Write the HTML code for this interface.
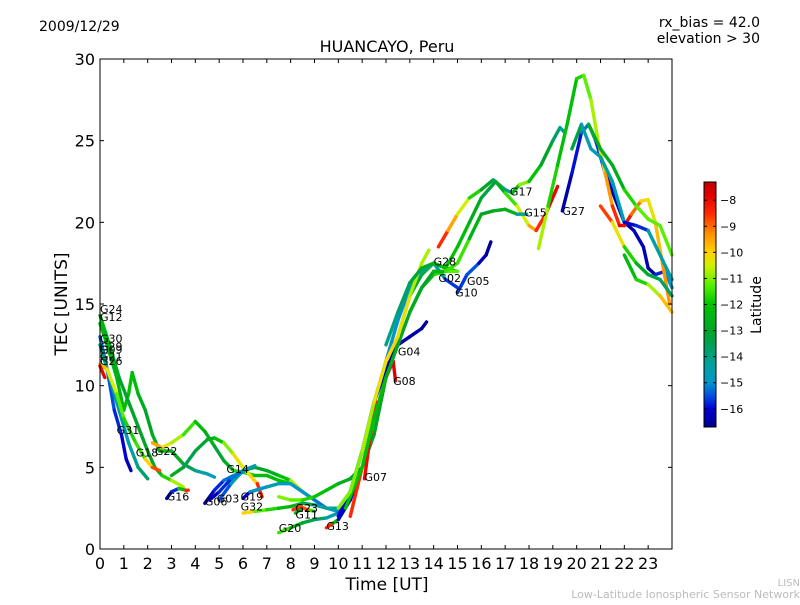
<!DOCTYPE html>
<html><head><meta charset="utf-8"><style>
body{margin:0;background:#fff;font-family:"Liberation Sans","DejaVu Sans",sans-serif}
svg text{font-family:"DejaVu Sans","Liberation Sans",sans-serif}
</style></head><body>
<svg id="chart" width="800" height="600" viewBox="0 0 800 600" xmlns="http://www.w3.org/2000/svg">
<rect width="800" height="600" fill="#fff"/>
<text x="39" y="31" font-size="14">2009/12/29</text>
<text x="760" y="27" font-size="14" text-anchor="end">rx_bias = 42.0</text>
<text x="760" y="43" font-size="14" text-anchor="end">elevation &gt; 30</text>
<text x="387" y="52" font-size="16" text-anchor="middle">HUANCAYO, Peru</text>
<text x="387" y="590" font-size="17" text-anchor="middle">Time [UT]</text>
<text x="0" y="0" font-size="17" text-anchor="middle" transform="translate(67,304) rotate(-90)">TEC [UNITS]</text>
<text x="800" y="586" font-size="10" fill="#bbb" text-anchor="end">LISN</text>
<text x="800" y="598" font-size="11" fill="#bbb" text-anchor="end">Low-Latitude Ionospheric Sensor Network</text>
<g id="tracks"></g>
<g id="labels"></g>
<rect x="100" y="59" width="572" height="490" fill="none" stroke="#000" stroke-width="1"/>
<g id="axes"></g>
<defs><linearGradient id="cmap" x1="0" y1="1" x2="0" y2="0"></linearGradient></defs>
<rect x="704" y="182" width="12" height="245" fill="url(#cmap)" stroke="#000" stroke-width="1"/>
<g id="cbar"></g>
<text x="0" y="0" font-size="14" text-anchor="middle" transform="translate(761,305) rotate(-90)">Latitude</text>
</svg>
<script>
const xTicks=[0,1,2,3,4,5,6,7,8,9,10,11,12,13,14,15,16,17,18,19,20,21,22,23];
const yTicks=[0,5,10,15,20,25,30];
const cbarTicks=[-8,-9,-10,-11,-12,-13,-14,-15,-16];
const latMin=-16.7, latMax=-7.3;
const trackNames=["G24","G12","G31","G30","G18","G26","G22","G16","G14b","G14","G03","G06","G19","G32","G20","G13","G11","G23","G25","G04","G08","G07","G10","G05","G02","G28","G17","G15","G27","PEAK","B2","GR2","OR","GR3","GL"];
const trackT=[
[0,0.3,0.7,1,1.2,1.35,1.6,1.9,2.2,2.5,3,3.5,4,4.5,4.8],
[0,0.4,0.8,1.2,1.6,2,2.3,2.6,3,3.5],
[0,0.3,0.6,0.9,1.1,1.3],
[0,0.4,0.8,1.2,1.6,2],
[0,0.3,0.7,1,1.5,1.9,2.2,2.5],
[0,0.2],
[2.2,2.6,3,3.5,4,4.4,4.8,5.2,5.6,6,6.5,7,7.5,8,8.5,9],
[2.8,3,3.3,3.6,3.7],
[3,3.5,4,4.5,4.8,5.2,5.6,6,6.3,6.6,6.8],
[5,5.5,6,6.5,7,7.5,8,8.5,9],
[4.4,4.8,5.2,5.6,6],
[4.6,5,5.5,6,6.5],
[6,6.3,7,7.5,8,8.5,9,9.5,10],
[6,6.5,7,7.5,8,8.5,9,9.5,10],
[7.5,8,8.5,9,9.5,10,10.5,11],
[9.5,9.8,10,10.5],
[8.2,8.5,9],
[8.1,8.4,8.7],
[7.5,8,8.5,9,9.5,10,10.5,11,11.5,12,12.5,13,13.5,14,14.5,15],
[10,10.5,11,11.5,12,12.5,13,13.5,13.7],
[10.5,11,11.5,12,12.3,12.4],
[11.1,11.3,11.6],
[10,10.5,11,11.5,12,12.5,13,13.5,14,14.5,15],
[15,15.4,15.9,16.2,16.4],
[10.3,11,11.5,12,12.5,13,13.5,14,14.5,15],
[10,10.5,11,11.5,12,12.5,13,13.5,13.8],
[14.2,14.6,15,15.5,16,16.5,17,17.3,17.6,18,18.5,19,19.3,19.5],
[12,12.5,13,13.5,14,14.5,15,15.5,16,16.6,17,17.5,18,18.3,18.7,19.2],
[19.4,19.8,20.2,20.5,20.8,21.2,21.6,22,22.4,22.8,23,23.3,23.7,24],
[18.4,18.8,19.2,19.6,20,20.3,20.6,20.9,21.2,21.5,21.8,22,22.3,22.7,23,23.3,23.6,23.9],
[19.8,20.2,20.6,21,21.5,22,22.5,23,23.5,24],
[20.5,21,21.5,22,22.5,23,23.5,24],
[21,21.5,22,22.5,23,23.5,24],
[22,22.5,23,23.5,24],
[13,13.5,14,14.5,15,15.5,16,16.5,17,17.5,17.9]
];
const trackV=[
[13.8,12.5,10.5,8.5,9.5,10.8,9.5,8.5,7,6,6,5.2,4.8,4.6,4.4],
[14.3,12.5,10.5,9,7.5,6,5,4.5,4.2,3.8],
[13,11,8.5,7,5.5,4.8],
[12.5,10.5,8.5,6.5,5,4.3],
[11.3,11,9.5,8,6.5,5.5,5,4.8],
[11.2,10.5],
[6.5,6.2,6.5,7,7.8,7.2,6.3,5.4,4.8,4.7,4.5,4.5,4.2,4,3.5,3],
[3.1,3.5,3.7,3.6,3.6],
[4.5,5,6,6.7,6.8,6.5,5.8,5,4.5,4,3.2],
[3,4,4.8,5,4.8,4.5,4.2,3.5,3],
[2.8,3.6,4.2,4.5,4.7],
[3,3.5,4.3,4.8,5.1],
[3.1,3.5,3.8,4,4,3.5,3,2.5,2.3],
[2.2,2.3,2.4,2.5,2.6,2.8,2.7,2.5,2.5],
[1,1.3,1.6,1.8,1.9,2.2,3,5],
[1.3,1.6,1.8,3],
[2.2,2.5,2.3],
[2.4,2.6,2.4],
[3.2,3,3,3.2,3.6,4,4.3,5,7,10.5,13,15.5,16.8,17.5,17.2,17],
[2,3.5,6,9,11,12.5,13,13.5,13.9],
[2,5,8,10.5,11.5,10.3],
[4.3,6.5,9],
[2.5,3.5,6,9,11.5,14,16,17,17.5,16.5,16],
[15.7,16.8,17.5,18,18.8],
[2.5,5,8,10.5,12.5,14.5,16,16.8,17,17],
[2.5,3.5,6,9,11.5,13,15.5,17.5,18.3],
[18.5,19.5,20.5,21.5,22,22.6,22,21.8,22.3,22.5,23.5,25,25.8,25.5],
[12.5,14.5,16.3,17.2,17.5,17.2,18.5,20,21.5,22.5,21.8,21,19.8,19.5,20.5,22.2],
[20.7,23,25.5,26,25,23,21.5,20,19.5,18.5,17.2,16.8,17,16],
[18.4,21,23.5,26,28.8,29,27.5,25,23,21,19.8,19.8,20.5,21.3,21.4,20,17.5,15],
[24.5,26,24.5,24,22.5,20,19.8,19.5,18,16.5],
[26,24.5,23.5,22,21,20.2,19.8,18],
[21,20,18.5,17.5,16.8,16.5,15.5],
[18,16.5,16.2,15.5,14.5],
[14.5,16,17,17,17.5,19,20.5,20.7,20.8,20.5,20.5]
];
const trackLat=[
[-12,-12.5,-12.5,-12.5,-12,-12,-12.5,-13,-13,-12.5,-12.5,-13,-14,-14.5,-15],
[-12.5,-12.5,-13,-13,-13,-13,-13,-12.5,-11,-10.5],
[-15,-15.5,-15.5,-16,-16,-16.5],
[-14,-14,-14.5,-14.5,-14,-13.5],
[-9.5,-10,-11,-11.5,-12,-11,-9,-8.5],
[-8,-7.8],
[-9,-10,-10.5,-11,-12,-12.5,-13,-13.5,-12,-11.5,-12,-12.5,-12,-12,-11,-10],
[-16.5,-16,-15.5,-9,-8],
[-12,-13.5,-13.5,-13,-12.5,-11.5,-10.5,-10,-11,-9,-8],
[-16,-15,-14,-13,-13,-12.5,-11.5,-10,-9],
[-16.5,-16,-15.5,-15,-14.5],
[-16.5,-16,-15.5,-15,-14],
[-16.5,-15.5,-14.5,-14.5,-15,-15,-15,-15.5,-14],
[-9,-11,-11.5,-12,-12.5,-13,-14,-14.5,-14],
[-11,-12,-13,-13.5,-14,-15,-16,-16],
[-8,-9,-16,-16.5],
[-16.5,-8,-15],
[-8,-9,-8.5],
[-11,-11,-11.5,-12,-12,-12.5,-13,-13,-13,-13,-13,-13,-12.5,-12.5,-12.5,-12],
[-16,-16,-16,-16.3,-16.5,-16.5,-16.3,-16.5,-16.7],
[-9,-8,-8.5,-8,-7.8,-7.8],
[-8,-8,-8.5],
[-15,-15,-15,-15,-15,-15,-15,-14.5,-14,-15,-16.3],
[-16.3,-15,-16,-16.5,-16.7],
[-12,-12,-12,-12.5,-13,-13,-12.5,-12,-11.5,-11],
[-11,-11,-11,-10.5,-10,-10,-10.5,-11,-10.5],
[-8,-9,-10,-11,-12.5,-13.5,-14.5,-14,-10.5,-11.5,-12.5,-13.5,-14,-14.5],
[-14,-14,-13.5,-13,-12.5,-12,-12,-12.5,-13,-13.5,-12,-11,-10,-9,-8,-7.8],
[-16.5,-16.3,-15.5,-15,-15.3,-16,-16.5,-16.5,-16.5,-16,-16.5,-16.5,-15,-15],
[-10,-11.5,-12,-12.3,-12,-11.5,-11,-10.5,-9.8,-9,-8,-7.8,-8.5,-9.5,-10.5,-10,-9.5,-9.2],
[-12.5,-14,-15,-14.5,-14,-15.5,-16.5,-15,-14,-15],
[-13,-12.5,-13,-12.5,-11,-11.5,-11,-11.5],
[-7.8,-9.5,-11,-12.5,-13,-13.5,-14],
[-12.5,-12,-11.5,-10,-9.5],
[-12.5,-13,-13,-12,-11,-12,-13,-13,-12.5,-12.5,-16]
];
const labelNames=["G24","G12","G30","G29","G09","G21","G26","G31","G18","G22","G16","G06","G03","G19","G14","G32","G23","G11","G20","G13","G07","G08","G04","G28","G02","G05","G10","G17","G15","G27"];
const labelT=[0,0,0,0,0,0,0,0.7,1.5,2.3,2.8,4.4,4.9,5.9,5.3,5.9,8.2,8.2,7.5,9.5,11.1,12.3,12.5,14,14.2,15.4,14.9,17.2,17.8,19.4];
const labelV=[14.7,14.2,12.9,12.4,12.2,11.8,11.5,7.3,5.9,6.0,3.2,2.9,3.1,3.2,4.9,2.6,2.5,2.1,1.3,1.4,4.4,10.3,12.1,17.6,16.6,16.4,15.7,21.9,20.6,20.7];

const cmStops=[[-16.7,[0,0,140]],[-16,[0,0,210]],[-15.5,[0,80,225]],[-15,[0,150,200]],[-14.3,[0,160,160]],[-13.5,[0,160,80]],[-13,[0,165,40]],[-12,[0,195,0]],[-11.3,[80,240,0]],[-10.5,[210,240,0]],[-10,[255,210,0]],[-9.3,[255,145,0]],[-8.5,[255,40,0]],[-7.8,[225,0,0]],[-7.3,[190,0,0]]];
function cmap(lat){if(lat<=cmStops[0][0])return 'rgb('+cmStops[0][1]+')';
 for(let i=1;i<cmStops.length;i++){if(lat<=cmStops[i][0]){const a=cmStops[i-1],b=cmStops[i],f=(lat-a[0])/(b[0]-a[0]);
  return 'rgb('+a[1].map((c,k)=>Math.round(c+(b[1][k]-c)*f)).join(',')+')';}}
 return 'rgb('+cmStops[cmStops.length-1][1]+')';}
const NS='http://www.w3.org/2000/svg';
const grad=document.getElementById('cmap');
cmStops.forEach(s=>{const st=document.createElementNS(NS,'stop');st.setAttribute('offset',(s[0]-latMin)/(latMax-latMin));st.setAttribute('stop-color','rgb('+s[1]+')');grad.appendChild(st);});
const X=t=>100+t*23.833, Y=v=>549-v*16.333;
const tg=document.getElementById('tracks');
trackT.forEach((ts,i)=>{
 const g=document.createElementNS(NS,'g');
 
 
 for(let j=0;j<ts.length-1;j++){
  const l=document.createElementNS(NS,'line');
  l.setAttribute('x1',X(ts[j]));l.setAttribute('y1',Y(trackV[i][j]));
  l.setAttribute('x2',X(ts[j+1]));l.setAttribute('y2',Y(trackV[i][j+1]));
  l.setAttribute('stroke',cmap((trackLat[i][j]+trackLat[i][j+1])/2));
  l.setAttribute('stroke-width','3.4');l.setAttribute('stroke-linecap','round');
  
  
  g.appendChild(l);}
 tg.appendChild(g);});
const lg=document.getElementById('labels');
labelNames.forEach((n,i)=>{const t=document.createElementNS(NS,'text');
 t.setAttribute('x',X(labelT[i]));t.setAttribute('y',Y(labelV[i])+4);t.setAttribute('font-size','11');t.textContent=n;
 
 
 lg.appendChild(t);});
const ag=document.getElementById('axes');
xTicks.forEach(v=>{const x=X(v);
 ag.insertAdjacentHTML('beforeend',`<line x1="${x}" y1="549" x2="${x}" y2="545" stroke="#000"/><line x1="${x}" y1="59" x2="${x}" y2="63" stroke="#000"/>`);
 const t=document.createElementNS(NS,'text');t.setAttribute('x',x);t.setAttribute('y',569);t.setAttribute('font-size','16');t.setAttribute('text-anchor','middle');t.textContent=v;
 
 
 ag.appendChild(t);});
yTicks.forEach(v=>{const y=Y(v);
 ag.insertAdjacentHTML('beforeend',`<line x1="100" y1="${y}" x2="104" y2="${y}" stroke="#000"/><line x1="672" y1="${y}" x2="668" y2="${y}" stroke="#000"/>`);
 const t=document.createElementNS(NS,'text');t.setAttribute('x',95);t.setAttribute('y',y+6);t.setAttribute('font-size','16');t.setAttribute('text-anchor','end');t.textContent=v;
 
 
 ag.appendChild(t);});
const cg=document.getElementById('cbar');
const CY=l=>427-(l-latMin)/(latMax-latMin)*245;
cbarTicks.forEach(v=>{const y=CY(v);
 cg.insertAdjacentHTML('beforeend',`<line x1="704" y1="${y}" x2="707" y2="${y}" stroke="#000"/><line x1="716" y1="${y}" x2="713" y2="${y}" stroke="#000"/>`);
 const t=document.createElementNS(NS,'text');t.setAttribute('x',720);t.setAttribute('y',y+4);t.setAttribute('font-size','11');t.textContent='\u2212'+Math.abs(v);
 
 
 cg.appendChild(t);});
</script>
</body></html>
